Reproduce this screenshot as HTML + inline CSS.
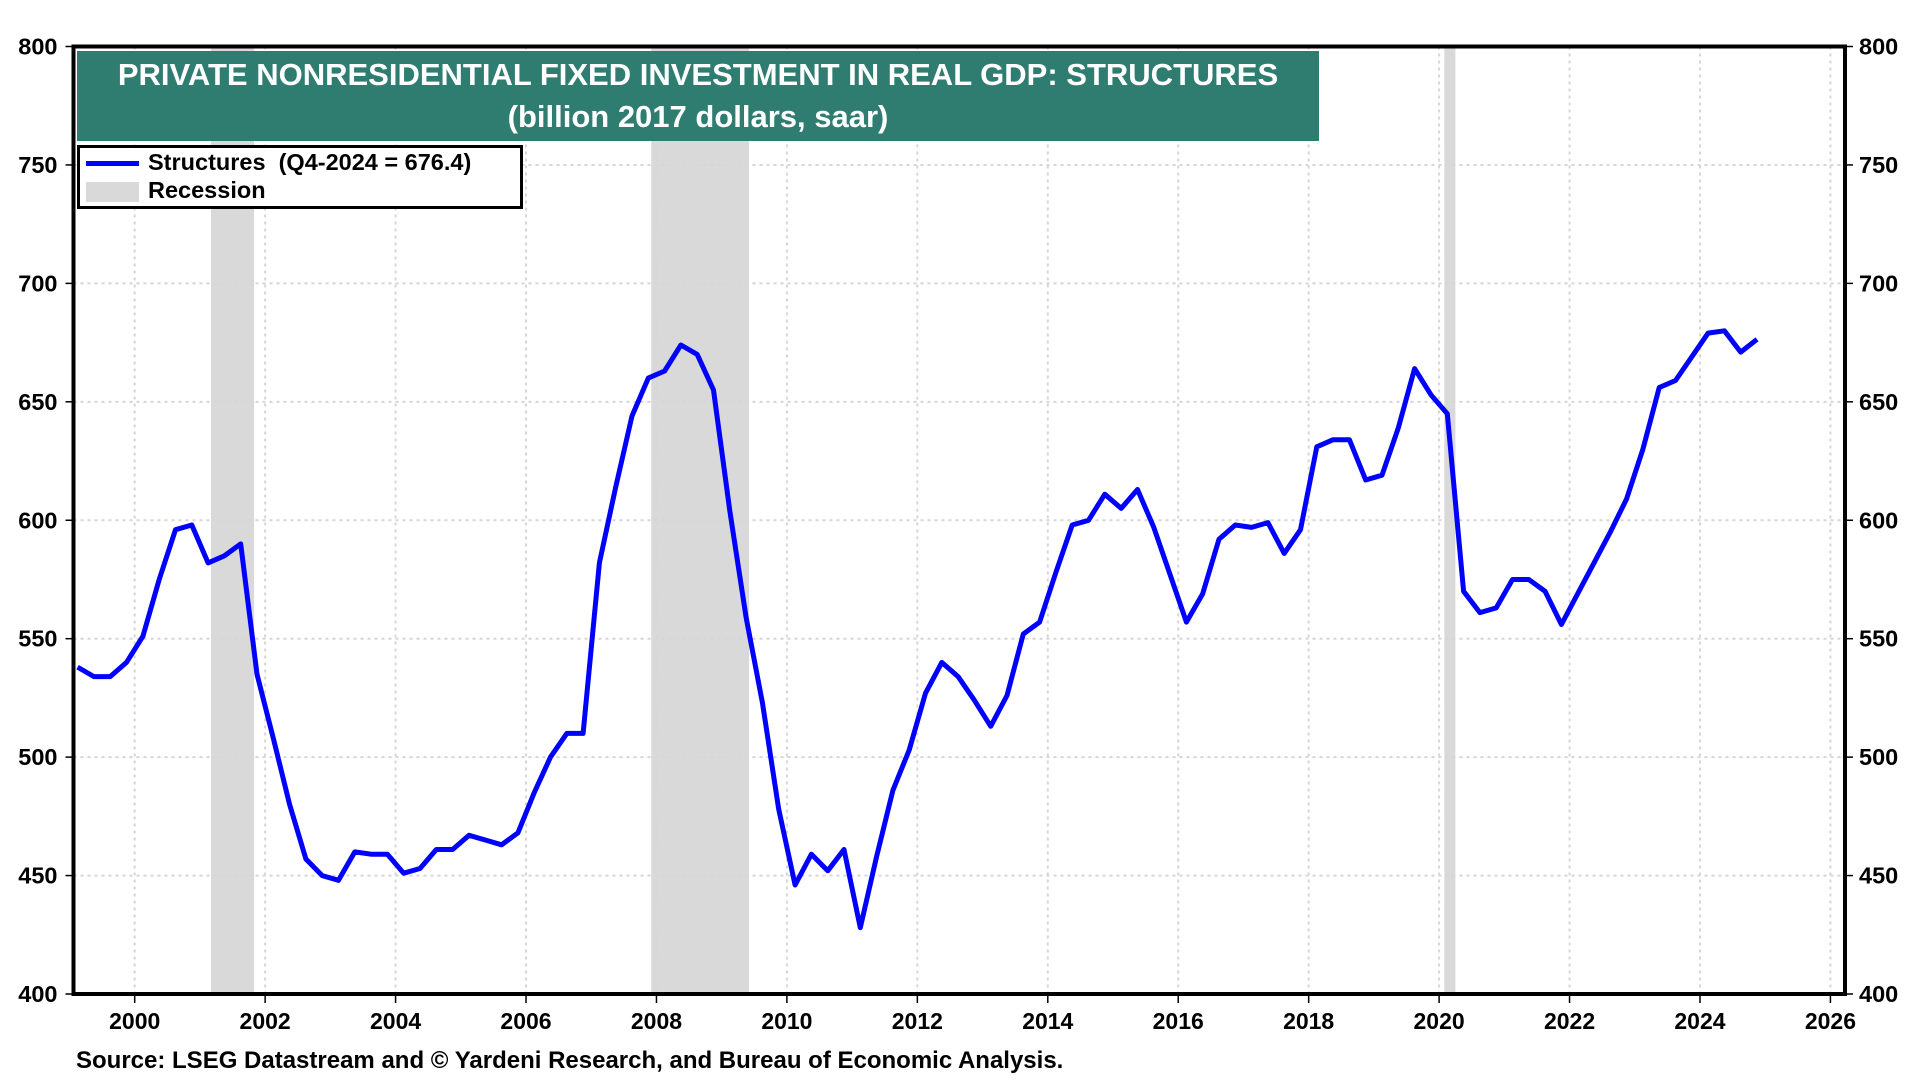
<!DOCTYPE html>
<html><head><meta charset="utf-8"><style>
body{margin:0;background:#fff;width:1920px;height:1080px;overflow:hidden;font-family:"Liberation Sans",Arial,sans-serif}
svg text{font-family:"Liberation Sans",Arial,sans-serif;font-weight:bold}
</style></head><body>
<svg id="c" width="1920" height="1080"></svg>
<script>
const years=[2000,2002,2004,2006,2008,2010,2012,2014,2016,2018,2020,2022,2024,2026];
const yTicks=[400,450,500,550,600,650,700,750,800];
const startYear=1999;
const values=[538,534,534,540,551,575,596,598,582,585,590,535,508,480,457,450,448,460,459,459,451,453,461,461,467,465,463,468,485,500,510,510,582,614,644,660,663,674,670,655,604,559,523,478,446,459,452,461,428,458,486,503,527,540,534,524,513,526,552,557,578,598,600,611,605,613,597,577,557,569,592,598,597,599,586,596,631,634,634,617,619,639,664,653,645,570,561,563,575,575,570,556,569,582,595,609,630,656,659,669,679,680,671,676.4];
const recStarts=[2001.17,2007.92,2020.08];
const recEnds=[2001.83,2009.42,2020.25];

const L=73.5,R=1845,T=46.5,B=994;
const x=v=>134.7+(v-2000)*65.22;
const y=v=>B-(v-400)/400*(B-T);
const svg=document.getElementById('c');
const NS='http://www.w3.org/2000/svg';
function mk(t,a,txt){const e=document.createElementNS(NS,t);for(const k in a)e.setAttribute(k,a[k]);if(txt!==undefined)e.textContent=txt;svg.appendChild(e);return e;}

recStarts.forEach((s,i)=>{
 const r=mk('rect',{x:x(s),y:T,width:x(recEnds[i])-x(s),height:B-T,fill:'#d9d9d9'});
 
 
});
years.forEach(v=>{
 const g=mk('line',{x1:x(v),x2:x(v),y1:T,y2:B,stroke:'#d6d6d6','stroke-width':2,'stroke-dasharray':'3,4'});
 
 
 mk('line',{x1:x(v),x2:x(v),y1:B,y2:B+9,stroke:'#000','stroke-width':1.5});
 const t=mk('text',{x:x(v),y:B+35,'text-anchor':'middle','font-size':23},String(v));
 
 
});
yTicks.forEach(v=>{
 if(v>400&&v<800){const g=mk('line',{x1:L,x2:R,y1:y(v),y2:y(v),stroke:'#d6d6d6','stroke-width':2,'stroke-dasharray':'3,4'});
 
 }
 mk('line',{x1:L-8,x2:L,y1:y(v),y2:y(v),stroke:'#000','stroke-width':1.5});
 mk('line',{x1:R,x2:R+8,y1:y(v),y2:y(v),stroke:'#000','stroke-width':1.5});
 const a=mk('text',{x:L-16,y:y(v)+8,'text-anchor':'end','font-size':23.5},String(v));
 
 
 const b=mk('text',{x:R+14,y:y(v)+8,'text-anchor':'start','font-size':23.5},String(v));
 
 
});
const pts=values.map((v,i)=>x(startYear+0.125+i*0.25).toFixed(1)+','+y(v).toFixed(1)).join(' ');
const line=mk('polyline',{points:pts,fill:'none',stroke:'#0000ff','stroke-width':5,'stroke-linejoin':'round'});


const fr=mk('rect',{x:L,y:T,width:R-L,height:B-T,fill:'none',stroke:'#000','stroke-width':4});


</script>
<div style="position:absolute;left:77px;top:51px;width:1242px;height:90px;background:#2e7d70;color:#fff;font-weight:bold;font-size:31px;text-align:center;line-height:42px;padding-top:3px;box-sizing:border-box">
<div>PRIVATE NONRESIDENTIAL FIXED INVESTMENT IN REAL GDP: STRUCTURES</div>
<div>(billion 2017 dollars, saar)</div></div>
<div style="position:absolute;left:77px;top:145px;width:446px;height:64px;border:3px solid #000;box-sizing:border-box;background:#fff;font-weight:bold;font-size:23.5px">
<div style="position:absolute;left:6px;top:1px;white-space:nowrap"><span style="display:inline-block;width:53px;height:5px;background:#00f;vertical-align:middle;margin-right:9px"></span>Structures&nbsp; (Q4-2024 = 676.4)</div>
<div style="position:absolute;left:6px;top:29px;white-space:nowrap"><span style="display:inline-block;width:53px;height:20px;background:#d9d9d9;vertical-align:middle;margin-right:9px"></span>Recession</div></div>
<div style="position:absolute;left:76px;top:1047px;font-weight:bold;font-size:24px">Source: LSEG Datastream and © Yardeni Research, and Bureau of Economic Analysis.</div>
</body></html>
